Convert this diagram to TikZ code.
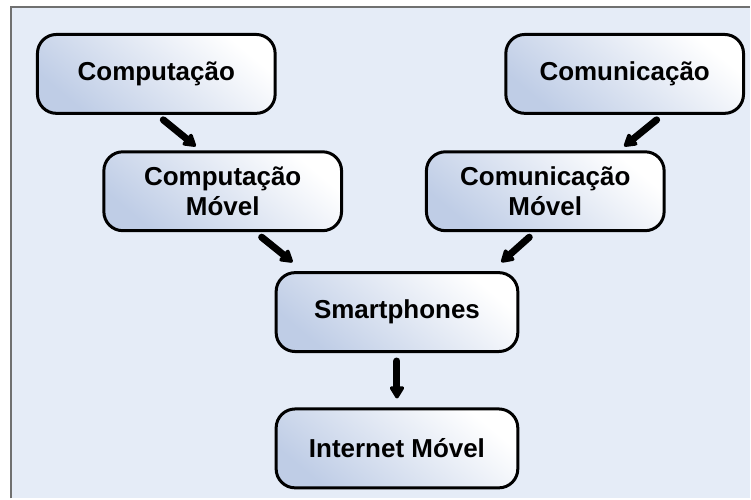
\documentclass[tikz,border=0pt]{standalone}
\usepackage{fontspec}
\setmainfont{Liberation Sans}
\usetikzlibrary{arrows.meta,calc}
\definecolor{panelbg}{HTML}{E5ECF7}
\definecolor{boxshade}{HTML}{BFCDE6}
\definecolor{framegray}{HTML}{707070}
\tikzset{
  stage/.style={draw=black, line width=3pt, rounded corners=19pt,
    minimum width=238pt, minimum height=79pt, inner sep=0pt, align=center,
    top color=white, bottom color=boxshade, shading angle=-40,
    font=\fontsize{26}{30}\selectfont\bfseries},
  flow/.style={line width=7pt, line cap=round,
    -{Triangle[length=14pt,width=16pt,round]}}
}
\begin{document}
\begin{tikzpicture}[x=1pt,y=-1pt]
  % canvas and panel
  \fill[white] (0,0) rectangle (751,499);
  \fill[panelbg] (11,7) rectangle (751,499);
  \draw[framegray, line width=2pt] (11,499) -- (11,7) -- (751,7);
  \useasboundingbox (0,0) rectangle (751,499);

  % stages
  \node[stage] (comp)  at (156.5,74)  {Computação};
  \node[stage] (comu)  at (625.5,74)  {Comunicação};
  \node[stage] (compm) at (223,191.5) {Computação\\Móvel};
  \node[stage] (comum) at (546,191.5) {Comunicação\\Móvel};
  \node[stage, minimum width=242pt] (smart) at (397.5,312.5) {Smartphones};
  \node[stage, minimum width=242pt] (inet)  at (397.5,449)   {Internet Móvel};

  % connectors
  \draw[flow] ([xshift=7pt,yshift=-5pt]comp.south) -- ([xshift=-27pt,yshift=4pt]compm.north);
  \draw[flow] ([xshift=32pt,yshift=-5pt]comu.south) -- ([xshift=79pt,yshift=4pt]comum.north);
  \draw[flow] ([xshift=39pt,yshift=-5pt]compm.south) -- ([xshift=-104.5pt,yshift=9pt]smart.north);
  \draw[flow] ([xshift=-16pt,yshift=-5pt]comum.south) -- ([xshift=104.5pt,yshift=9pt]smart.north);
  \draw[flow] ([yshift=-8pt]smart.south) -- ([yshift=9pt]inet.north);
\end{tikzpicture}
\end{document}
